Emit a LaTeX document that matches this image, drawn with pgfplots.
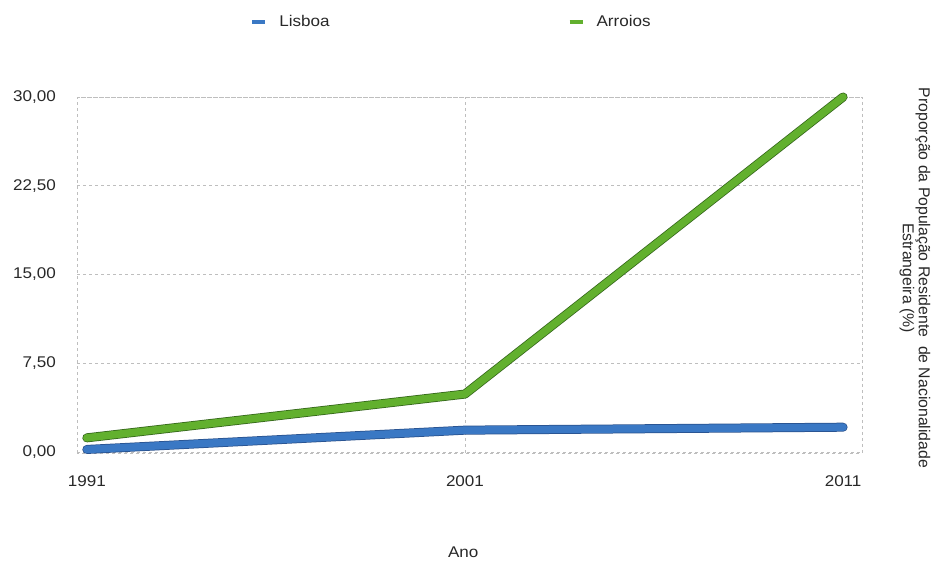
\documentclass[border=0pt]{standalone}
\usepackage{pgfplots}
\pgfplotsset{compat=1.18}
\usepackage{fontspec}
\setmainfont{Liberation Sans}[FakeStretch=1.1]
\newfontfamily\labelfont{Liberation Sans}
\definecolor{lisboa}{RGB}{58,120,196}
\definecolor{lisboadark}{RGB}{40,80,140}
\definecolor{arroios}{RGB}{98,176,46}
\definecolor{arroiosdark}{RGB}{50,100,25}
\definecolor{txt}{RGB}{40,40,40}
\definecolor{gridc}{RGB}{190,190,190}
\begin{document}
\fontsize{15.5bp}{18bp}\selectfont
\begin{tikzpicture}
\useasboundingbox (0,0) rectangle (944bp,563bp);
\begin{axis}[
  at={(77bp,110bp)}, anchor=south west,
  width=785bp, height=356bp, scale only axis,
  xmin=1990.74, xmax=2011.5, ymin=-0.08, ymax=30,
  xtick={1991,2001,2011}, xticklabels={1991,2001,2011},
  ytick={0,7.5,15,22.5,30},
  /pgf/number format/assume math mode=true,
  yticklabel style={/pgf/number format/fixed, /pgf/number format/fixed zerofill,
    /pgf/number format/precision=2, /pgf/number format/use comma,
    inner sep=0pt, xshift=-21bp, text=txt},
  xticklabel style={inner sep=0pt, yshift=-22bp, text=txt},
  major tick length=0pt,
  axis line style={gridc, dash pattern=on 3bp off 3bp, line width=0.9bp},
  ymajorgrids,
  extra x ticks={2001}, extra x tick labels={},
  extra x tick style={xmajorgrids=true},
  grid style={gridc, dash pattern=on 3bp off 3bp, line width=0.9bp},
  clip=false,
  legend columns=2,
  legend style={at={(axis description cs:0.477,1.21)}, anchor=center, draw=none, fill=none,
    text=txt, font=\fontsize{15.5bp}{18bp}\selectfont,
    /tikz/every even column/.append style={column sep=236bp},
    /tikz/every odd column/.append style={column sep=10bp}},
  legend image code/.code={\draw[#1, line width=4bp, line cap=butt] (0bp,0bp) -- (13bp,0bp);},
]
\addplot[lisboadark, line width=9bp, line cap=round, line join=round, forget plot]
  coordinates {(1991,0.22) (2001,1.85) (2011,2.1)};
\addplot[lisboa, line width=7.5bp, line cap=round, line join=round]
  coordinates {(1991,0.22) (2001,1.85) (2011,2.1)};
\addlegendentry{Lisboa}
\addplot[arroiosdark, line width=9bp, line cap=round, line join=round, forget plot]
  coordinates {(1991,1.2) (2001,4.9) (2011,30)};
\addplot[arroios, line width=7.5bp, line cap=round, line join=round]
  coordinates {(1991,1.2) (2001,4.9) (2011,30)};
\addlegendentry{Arroios}
\node[xshift=53bp, yshift=-3bp, rotate=-90, align=center, text=txt, font=\labelfont\fontsize{15.8bp}{16bp}\selectfont]
  at (axis description cs:1,0.5)
  {Proporção da População Residente \ de Nacionalidade\\Estrangeira (\%)};
\node[text=txt] at (axis description cs:0.492,0) [yshift=-99bp] {Ano};
\end{axis}
\end{tikzpicture}
\end{document}
